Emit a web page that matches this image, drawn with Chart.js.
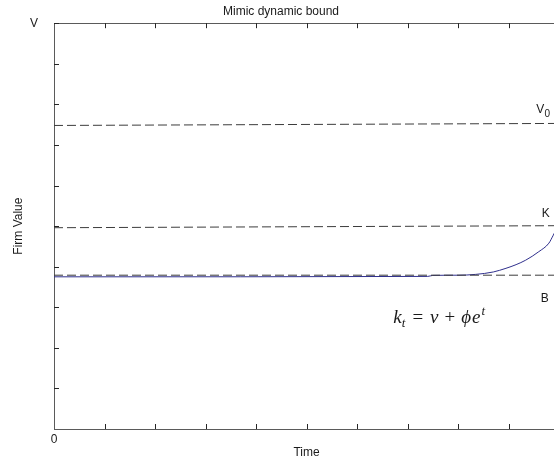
<!DOCTYPE html>
<html>
<head>
<meta charset="utf-8">
<title>Mimic dynamic bound</title>
<script src="https://cdn.jsdelivr.net/npm/chart.js@4/dist/chart.umd.min.js"></script>
<style>
  html, body { margin: 0; padding: 0; background: #ffffff; overflow: hidden; }
  #wrap { width: 562px; height: 465px; }
</style>
</head>
<body>
<div id="wrap"><canvas id="chart" width="562" height="465"></canvas></div>
<script>
// Axis ticks and their labels
const timeTicks = [0, 1, 2, 3, 4, 5, 6, 7, 8, 9, 10];
const timeTickLabels = ['0', '', '', '', '', '', '', '', '', '', ''];
const valueTicks = [0, 1, 2, 3, 4, 5, 6, 7, 8, 9, 10];
const valueTickLabels = ['', '', '', '', '', '', '', '', '', '', 'V'];

// Horizontal bounds (time, value)
const v0Time = [0, 10];
const v0Value = [7.48, 7.53];
const kTime = [0, 10];
const kValue = [4.96, 5.01];
const bTime = [0, 10];
const bValue = [3.79, 3.79];

// Firm value path k_t
const pathTime = [0, 7.4, 7.5, 8.0, 8.35, 8.7, 8.95, 9.15, 9.34, 9.6, 9.8, 9.88, 10];
const pathValue = [3.75, 3.76, 3.785, 3.79, 3.81, 3.87, 3.96, 4.05, 4.16, 4.37, 4.58, 4.76, 5.05];

// Labels placed beside the bounds (time, value)
const boundLabels = ['V', 'K', 'B'];
const boundLabelTime = [9.63, 9.74, 9.72];
const boundLabelValue = [7.86, 5.30, 3.20];
const v0Subscript = '0';
const v0SubTime = 9.77;
const v0SubValue = 7.75;

// Formula anchor (left end of baseline)
const formulaTime = 6.72;
const formulaValue = 2.62;

const pairs = (xs, ys) => xs.map((x, i) => ({ x: x, y: ys[i] }));

const TEXT = '#1a1a1a';
const AXIS = '#5a5a5a';
const SANS = "'Liberation Sans', Arial, sans-serif";
const SERIF = "'Liberation Serif', 'DejaVu Serif', 'Times New Roman', serif";

// Inward tick marks on the bottom, top and left edges
const innerTicks = {
  id: 'innerTicks',
  afterDatasetsDraw(chart) {
    const { ctx, chartArea: a, scales } = chart;
    ctx.save();
    ctx.strokeStyle = '#262626';
    ctx.lineWidth = 1;
    ctx.beginPath();
    timeTicks.forEach(t => {
      if (t === 0) return;
      const px = Math.round(scales.x.getPixelForValue(t)) + 0.5;
      ctx.moveTo(px, a.bottom);
      ctx.lineTo(px, a.bottom - 5);
      ctx.moveTo(px, a.top);
      ctx.lineTo(px, a.top + 5);
    });
    valueTicks.forEach(v => {
      if (v === 0) return;
      const py = Math.round(scales.y.getPixelForValue(v)) + 0.5;
      ctx.moveTo(a.left, py);
      ctx.lineTo(a.left + 5, py);
    });
    ctx.stroke();
    ctx.restore();
  }
};

// Bound names and the k_t formula
const textMarks = {
  id: 'textMarks',
  afterDatasetsDraw(chart) {
    const { ctx, scales } = chart;
    const X = v => scales.x.getPixelForValue(v);
    const Y = v => scales.y.getPixelForValue(v);
    ctx.save();
    ctx.fillStyle = TEXT;
    ctx.textAlign = 'center';
    ctx.textBaseline = 'middle';
    ctx.font = '12px ' + SANS;
    boundLabels.forEach((s, i) => ctx.fillText(s, X(boundLabelTime[i]), Y(boundLabelValue[i])));
    ctx.font = '10px ' + SANS;
    ctx.fillText(v0Subscript, X(v0SubTime), Y(v0SubValue));

    // k_t = v + phi e^t
    const parts = [
      { s: 'k', f: 'italic 19px', dy: 0, gap: 0 },
      { s: 't', f: 'italic 13px', dy: 4, gap: 0 },
      { s: '=', f: '19px', dy: 0, gap: 7 },
      { s: 'v', f: 'italic 19px', dy: 0, gap: 7 },
      { s: '+', f: '19px', dy: 0, gap: 6 },
      { s: '\u03D5', f: 'italic 19px', dy: 0, gap: 6 },
      { s: 'e', f: 'italic 19px', dy: 0, gap: 1 },
      { s: 't', f: 'italic 13px', dy: -8, gap: 1 }
    ];
    let x = X(formulaTime);
    const base = Y(formulaValue);
    ctx.textAlign = 'left';
    ctx.textBaseline = 'alphabetic';
    parts.forEach(p => {
      ctx.font = p.f + ' ' + SERIF;
      x += p.gap;
      ctx.fillText(p.s, x, base + p.dy);
      x += ctx.measureText(p.s).width;
    });
    ctx.restore();
  }
};

const fixedTicks = list => scale => { scale.ticks = list.map(v => ({ value: v })); };

const dashed = (label, xs, ys) => ({
  label: label,
  data: pairs(xs, ys),
  borderColor: '#3c3c3c',
  borderWidth: 1,
  borderDash: [9, 4],
  pointRadius: 0,
  tension: 0,
  fill: false
});

new Chart(document.getElementById('chart'), {
  type: 'line',
  data: {
    datasets: [
      dashed('V0', v0Time, v0Value),
      dashed('K', kTime, kValue),
      dashed('B', bTime, bValue),
      {
        label: 'k_t',
        data: pairs(pathTime, pathValue),
        borderColor: '#2f2f8c',
        borderWidth: 1,
        pointRadius: 0,
        cubicInterpolationMode: 'monotone',
        fill: false
      }
    ]
  },
  options: {
    responsive: false,
    animation: false,
    events: [],
    layout: { padding: 0 },
    plugins: {
      legend: { display: false },
      tooltip: { enabled: false },
      title: {
        display: true,
        text: 'Mimic dynamic bound',
        color: TEXT,
        font: { family: SANS, size: 12, weight: 'normal', lineHeight: 1.2 },
        padding: { top: 4, bottom: 4.6 }
      }
    },
    scales: {
      x: {
        type: 'linear',
        position: 'bottom',
        min: 0,
        max: 10,
        afterBuildTicks: fixedTicks(timeTicks),
        afterFit: s => { s.height = 36; },
        grid: { display: false, drawTicks: false },
        border: { display: true, color: AXIS, width: 1 },
        ticks: {
          autoSkip: false,
          maxRotation: 0,
          padding: 3,
          color: TEXT,
          font: { family: SANS, size: 12 },
          callback: (v, i) => timeTickLabels[i]
        },
        title: {
          display: true,
          text: 'Time',
          color: TEXT,
          font: { family: SANS, size: 12, lineHeight: 1.2 },
          padding: { top: 0, bottom: 5 }
        }
      },
      xTop: {
        type: 'linear',
        position: 'top',
        min: 0,
        max: 10,
        afterBuildTicks: fixedTicks(timeTicks),
        afterFit: s => { s.height = 0; },
        grid: { display: false, drawTicks: false },
        border: { display: true, color: AXIS, width: 1 },
        ticks: { display: false }
      },
      y: {
        type: 'linear',
        position: 'left',
        min: 0,
        max: 10,
        afterBuildTicks: fixedTicks(valueTicks),
        afterFit: s => { s.width = 54; },
        grid: { display: false, drawTicks: false },
        border: { display: true, color: AXIS, width: 1 },
        ticks: {
          autoSkip: false,
          padding: 16,
          color: TEXT,
          font: { family: SANS, size: 12 },
          callback: (v, i) => valueTickLabels[i]
        },
        title: {
          display: true,
          text: 'Firm Value',
          color: TEXT,
          font: { family: SANS, size: 12, lineHeight: 1.2 },
          padding: { top: 11, bottom: 0 }
        }
      }
    }
  },
  plugins: [innerTicks, textMarks]
});
</script>
</body>
</html>
